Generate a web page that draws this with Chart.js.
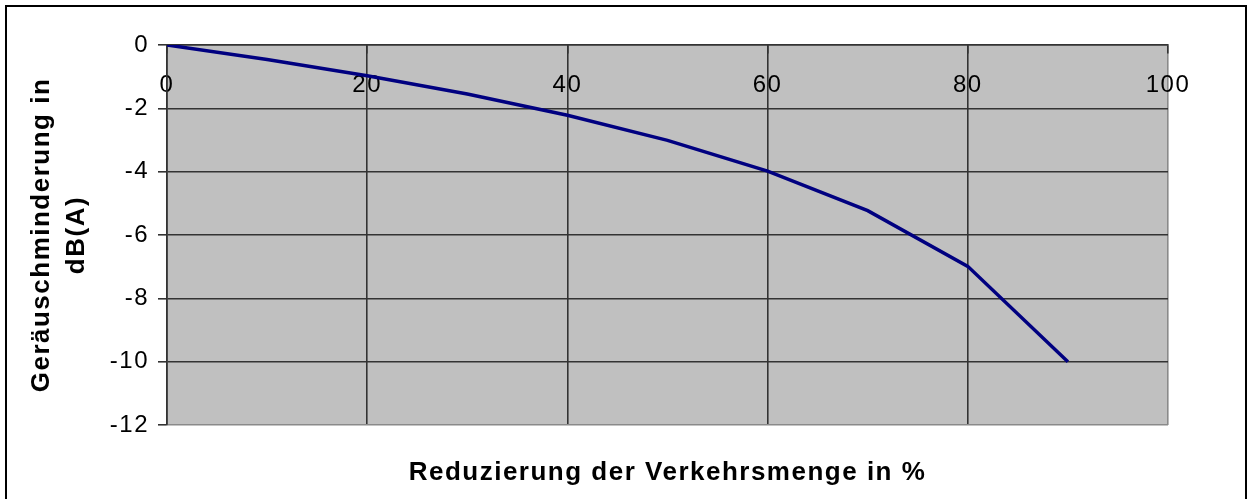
<!DOCTYPE html>
<html>
<head>
<meta charset="utf-8">
<script src="https://cdn.jsdelivr.net/npm/chart.js@4"></script>
<style>
    html, body { margin: 0; padding: 0; background: #fff; overflow: hidden; }
    #frame {
        position: absolute; left: 5px; top: 5px; width: 1242px; height: 520px;
        box-sizing: border-box; border: 2px solid #000; pointer-events: none;
    }
    #noiseChart { position: absolute; left: 0; top: 0; }
</style>
</head>
<body>
<canvas id="noiseChart" width="1251" height="499"></canvas>
<div id="frame"></div>
<script>
// Reduzierung der Verkehrsmenge (%) und zugehoerige Geraeuschminderung (dB(A))
const reduction = [0, 10, 20, 30, 40, 50, 60, 70, 80, 90];
const noiseDrop = [0, -0.46, -0.97, -1.55, -2.22, -3.01, -3.98, -5.23, -6.99, -10];

const xTicks = [0, 20, 40, 60, 80, 100];
const yTicks = [0, -2, -4, -6, -8, -10, -12];

const plotBackground = {
    id: "plotBackground",
    beforeDraw(chart) {
        const { ctx, chartArea } = chart;
        ctx.save();
        ctx.fillStyle = "#c0c0c0";
        ctx.fillRect(chartArea.left, chartArea.top,
            chartArea.right - chartArea.left, chartArea.bottom - chartArea.top);
        ctx.restore();
        // text in the original is spaced out a little
        ctx.letterSpacing = "1.5px";
    }
};

function createNoiseChart() {
    const ctx = document.getElementById("noiseChart");

    new Chart(ctx, {
        type: "line",
        data: {
            datasets: [
                {
                    label: "Geräuschminderung",
                    data: reduction.map((x, i) => ({ x: x, y: noiseDrop[i] })),
                    borderColor: "#000080",
                    borderWidth: 3.5,
                    pointRadius: 0,
                    fill: false,
                    tension: 0
                }
            ]
        },
        options: {
            responsive: false,
            animation: false,
            layout: {
                padding: { top: 45, right: 83, left: 0, bottom: 0 }
            },
            plugins: {
                legend: { display: false },
                tooltip: { enabled: false }
            },
            scales: {
                x: {
                    type: "linear",
                    position: { y: 0 },
                    min: 0,
                    max: 100,
                    afterBuildTicks: scale => {
                        scale.ticks = xTicks.map(v => ({ value: v }));
                    },
                    grid: {
                        color: ctx => ctx.tick && ctx.tick.value === 100 ? "#8a8a8a" : "#333",
                        tickColor: "#333",
                        lineWidth: 1.6,
                        tickLength: 8
                    },
                    border: { display: true, color: "#333", width: 1.6 },
                    ticks: {
                        color: "#000",
                        padding: 18,
                        font: { family: "Liberation Sans", size: 24 }
                    }
                },
                xTitle: {
                    type: "linear",
                    axis: "x",
                    position: "bottom",
                    min: 0,
                    max: 100,
                    grid: { display: false },
                    border: { display: false },
                    ticks: { display: false },
                    afterFit: scale => { scale.height = 74; },
                    title: {
                        display: true,
                        text: "Reduzierung der Verkehrsmenge in %",
                        color: "#000",
                        padding: { top: 0, bottom: 11 },
                        font: { family: "Liberation Sans", size: 26, weight: "bold" }
                    }
                },
                y: {
                    type: "linear",
                    position: "left",
                    min: -12,
                    max: 0,
                    afterBuildTicks: scale => {
                        scale.ticks = yTicks.map(v => ({ value: v }));
                    },
                    afterFit: scale => { scale.width = 167; },
                    grid: {
                        color: ctx => ctx.tick && ctx.tick.value === -12 ? "#8a8a8a" : "#333",
                        tickColor: "#333",
                        lineWidth: 1.6,
                        tickLength: 9
                    },
                    border: { display: true, color: "#333", width: 1.6 },
                    ticks: {
                        color: "#000",
                        padding: 9,
                        font: { family: "Liberation Sans", size: 24 }
                    },
                    title: {
                        display: true,
                        text: ["Geräuschminderung in", "dB(A)"],
                        color: "#000",
                        padding: { top: 25, bottom: 0 },
                        font: { family: "Liberation Sans", size: 26, weight: "bold", lineHeight: 1.32 }
                    }
                }
            }
        },
        plugins: [plotBackground]
    });
}

document.addEventListener("DOMContentLoaded", function () {
    createNoiseChart();
});
</script>
</body>
</html>
